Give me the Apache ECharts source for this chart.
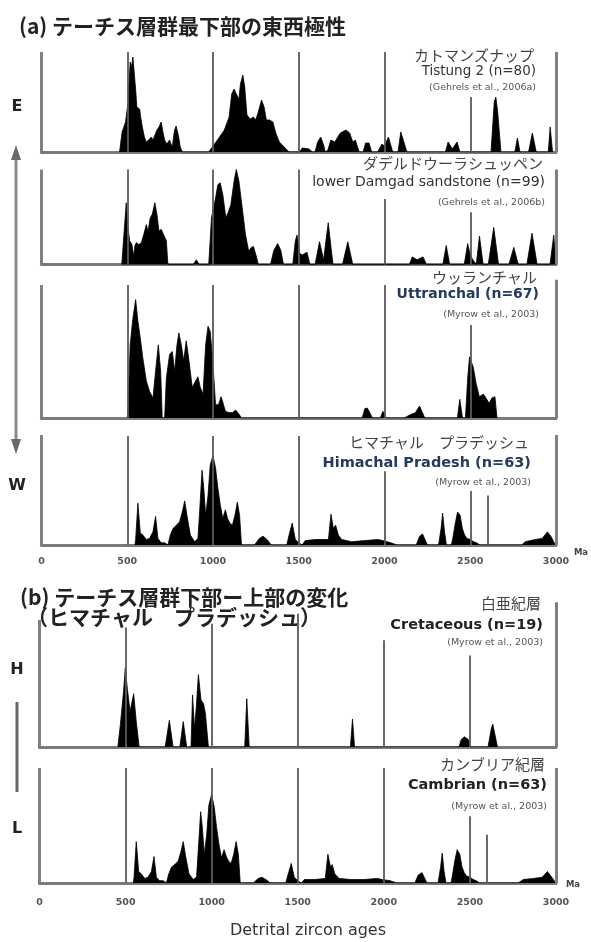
<!DOCTYPE html>
<html><head><meta charset="utf-8">
<script src="https://cdn.jsdelivr.net/npm/echarts@6/dist/echarts.min.js"></script>
<style>html,body{margin:0;padding:0;background:#fff}#c{width:591px;height:942px}</style>
</head><body><div id="c"></div>
<script>
// ---- data: [age (Ma), relative probability] ----
const tickAges = [0, 500, 1000, 1500, 2000, 2500, 3000];

const tistung = [[455,0],[470,0.2],[490,0.3],[505,0.5],[517,0.9],[525,0.85],[533,0.95],[543,0.93],[550,0.6],[556,0.45],[565,0.43],[572,0.43],[580,0.33],[588,0.25],[600,0.15],[611,0.1],[625,0.12],[640,0.15],[650,0.12],[660,0.12],[673,0.22],[685,0.25],[698,0.3],[708,0.2],[718,0.12],[730,0.08],[737,0.08],[747,0.12],[755,0.08],[763,0.05],[770,0.15],[776,0.22],[785,0.26],[792,0.26],[800,0.15],[809,0.05],[821,0],
[975,0],[1009,0.08],[1038,0.15],[1066,0.22],[1094,0.35],[1109,0.58],[1123,0.63],[1136,0.58],[1151,0.53],[1160,0.68],[1174,0.77],[1185,0.65],[1198,0.37],[1217,0.33],[1236,0.35],[1249,0.32],[1264,0.4],[1283,0.52],[1298,0.45],[1311,0.32],[1330,0.32],[1349,0.3],[1368,0.18],[1387,0.1],[1415,0.05],[1443,0],
[1505,0],[1520,0.04],[1560,0.03],[1580,0],[1595,0],[1610,0.1],[1628,0.15],[1643,0.08],[1655,0],[1670,0.02],[1687,0.12],[1710,0.1],[1742,0.19],[1775,0.22],[1797,0.19],[1815,0.1],[1830,0.12],[1852,0],[1875,0],[1890,0.09],[1910,0.09],[1925,0],[1960,0],[1985,0.08],[2000,0.06],[2023,0.15],[2048,0],[2079,0],[2095,0.2],[2106,0.2],[2131,0],[2355,0],[2371,0.1],[2395,0.03],[2423,0.1],[2440,0],[2621,0],[2640,0.5],[2649,0.55],[2660,0.4],[2679,0],[2760,0],[2775,0.14],[2790,0],[2840,0],[2862,0.19],[2885,0],[2955,0],[2966,0.25],[2980,0]];

const damgad = [[468,0],[480,0.3],[494,0.65],[503,0.4],[514,0.25],[527,0.21],[537,0.09],[545,0.2],[553,0.23],[568,0.21],[582,0.23],[597,0.32],[611,0.42],[621,0.35],[634,0.49],[646,0.53],[661,0.65],[673,0.53],[685,0.35],[698,0.37],[708,0.33],[728,0.25],[737,0],
[885,0],[903,0.05],[920,0],
[975,0],[985,0.3],[991,0.49],[1000,0.5],[1015,0.7],[1028,0.84],[1042,0.86],[1057,0.74],[1075,0.49],[1091,0.56],[1104,0.63],[1123,0.88],[1136,1.0],[1151,0.88],[1170,0.6],[1189,0.32],[1208,0.14],[1223,0.18],[1236,0.19],[1255,0.07],[1264,0],
[1335,0],[1355,0.15],[1377,0.22],[1395,0.15],[1411,0],
[1465,0],[1480,0.25],[1490,0.31],[1505,0.12],[1520,0.1],[1548,0.13],[1565,0],
[1595,0],[1621,0.24],[1645,0.05],[1655,0.2],[1672,0.44],[1690,0.15],[1700,0],
[1755,0],[1786,0.24],[1815,0],
[2145,0],[2162,0.08],[2190,0.05],[2225,0.08],[2245,0],
[2340,0],[2360,0.2],[2380,0],
[2465,0],[2485,0.22],[2500,0.1],[2515,0.05],[2535,0],[2554,0.3],[2575,0],[2605,0],[2637,0.39],[2665,0],[2725,0],[2754,0.18],[2780,0],[2830,0],[2860,0.33],[2890,0],[2965,0],[2987,0.31],[3000,0]];

const uttranchal = [[500,0],[504,0.05],[517,0.55],[533,0.75],[549,0.89],[562,0.73],[576,0.6],[591,0.45],[611,0.28],[630,0.2],[650,0.15],[665,0.35],[681,0.55],[695,0.35],[704,0],[718,0],[728,0.3],[747,0.48],[763,0.5],[776,0.35],[790,0.55],[801,0.64],[815,0.55],[829,0.43],[844,0.58],[860,0.43],[879,0.23],[899,0.28],[912,0.31],[926,0.23],[942,0.18],[957,0.55],[971,0.69],[984,0.65],[1000,0.4],[1015,0.1],[1032,0.1],[1047,0.16],[1057,0.12],[1072,0.05],[1094,0.04],[1113,0.04],[1132,0.06],[1151,0.03],[1166,0],
[1870,0],[1885,0.07],[1900,0.075],[1930,0],[1975,0],[1991,0.05],[2010,0],
[2115,0],[2150,0.025],[2180,0.04],[2204,0.09],[2235,0],
[2425,0],[2439,0.14],[2455,0],
[2472,0],[2485,0.3],[2496,0.46],[2502,0.47],[2518,0.38],[2534,0.26],[2553,0.16],[2576,0.18],[2592,0.15],[2610,0.11],[2626,0.15],[2644,0.16],[2656,0]];

const himachal = [[545,0],[549,0.05],[562,0.38],[576,0.11],[591,0.09],[611,0.05],[630,0.06],[650,0.12],[665,0.26],[679,0.06],[698,0.02],[718,0.02],[737,0],[751,0.09],[767,0.15],[786,0.18],[805,0.21],[821,0.3],[835,0.4],[848,0.27],[868,0.09],[893,0.03],[912,0.06],[922,0.3],[936,0.68],[946,0.52],[957,0.27],[971,0.45],[984,0.73],[1000,0.81],[1015,0.7],[1028,0.52],[1042,0.37],[1057,0.24],[1072,0.32],[1085,0.24],[1098,0.2],[1113,0.18],[1128,0.27],[1142,0.39],[1155,0.27],[1166,0],
[1242,0],[1270,0.06],[1292,0.08],[1315,0.05],[1340,0],
[1430,0],[1445,0.1],[1462,0.2],[1480,0.05],[1500,0.02],[1520,0],
[1530,0],[1538,0.04],[1600,0.05],[1673,0.05],[1688,0.28],[1702,0.15],[1715,0.18],[1731,0.09],[1750,0.05],[1808,0.03],[1885,0.04],[1962,0.05],[1990,0.04],[2037,0.02],[2074,0],
[2185,0],[2205,0.08],[2222,0.1],[2250,0],
[2315,0],[2330,0.15],[2339,0.29],[2350,0.12],[2361,0],
[2390,0],[2398,0.06],[2413,0.2],[2426,0.3],[2441,0.27],[2454,0.15],[2467,0.09],[2481,0.06],[2500,0.05],[2519,0.03],[2537,0.02],[2556,0],
[2800,0],[2820,0.03],[2880,0.05],[2920,0.06],[2950,0.12],[2970,0.08],[2990,0.02],[3000,0]];

const cretaceous = [[455,0],[470,0.18],[489,0.45],[498,0.62],[511,0.45],[526,0.28],[538,0.36],[547,0.42],[562,0.2],[579,0],
[730,0],[754,0.21],[776,0],
[815,0],[835,0.2],[855,0],
[880,0],[889,0.41],[900,0.15],[910,0.3],[923,0.57],[938,0.37],[953,0.34],[964,0.26],[981,0],
[1192,0],[1204,0.38],[1218,0],
[1806,0],[1818,0.22],[1830,0],
[2436,0],[2450,0.06],[2468,0.08],[2490,0.06],[2504,0],
[2605,0],[2625,0.15],[2633,0.18],[2660,0]];

const cambrian = [[545,0],[549,0.05],[562,0.36],[576,0.1],[591,0.08],[611,0.04],[630,0.05],[650,0.1],[665,0.23],[679,0.05],[698,0.02],[718,0.02],[737,0],[751,0.08],[767,0.14],[786,0.16],[805,0.19],[821,0.27],[835,0.36],[848,0.24],[868,0.08],[893,0.03],[912,0.05],[922,0.28],[936,0.62],[946,0.48],[957,0.25],[971,0.42],[984,0.68],[1000,0.77],[1015,0.66],[1028,0.49],[1042,0.34],[1057,0.22],[1072,0.29],[1085,0.23],[1098,0.19],[1113,0.17],[1128,0.25],[1142,0.36],[1155,0.25],[1166,0],
[1242,0],[1270,0.04],[1292,0.05],[1315,0.03],[1340,0],
[1430,0],[1445,0.08],[1462,0.17],[1480,0.05],[1500,0.02],[1520,0],
[1530,0],[1538,0.03],[1600,0.03],[1660,0.04],[1675,0.25],[1690,0.14],[1700,0.16],[1715,0.08],[1740,0.04],[1808,0.03],[1885,0.03],[1962,0.04],[1990,0.03],[2037,0.02],[2074,0],
[2180,0],[2200,0.07],[2222,0.09],[2250,0],
[2315,0],[2330,0.14],[2339,0.26],[2350,0.1],[2361,0],
[2390,0],[2398,0.06],[2413,0.2],[2426,0.29],[2441,0.25],[2454,0.14],[2467,0.09],[2481,0.06],[2500,0.05],[2519,0.03],[2537,0.02],[2556,0],
[2780,0],[2810,0.03],[2870,0.04],[2920,0.05],[2950,0.1],[2970,0.06],[2990,0.02],[3000,0]];

// reference lines: [age, height]
const tistungLines    = [[0,1],[500,1],[1000,1],[1500,1],[2000,1],[2500,0.55],[3000,1]];
const damgadLines     = [[0,1],[500,1],[1000,1],[1500,1],[2000,0.69],[2500,0.55],[3000,1]];
const uttranchalLines = [[0,1],[500,1],[1000,1],[1500,1],[2000,1],[2500,0.7],[3000,1.04]];
const himachalLines   = [[0,1],[500,0.99],[1000,0.99],[1500,0.99],[2000,0.67],[2500,0.49],[2600,0.45],[3000,1]];
const cretaceousLines = [[0,1],[500,0.94],[1000,0.97],[1500,1.05],[2000,0.84],[2500,0.72],[3000,1.14]];
const cambrianLines   = [[0,1],[500,1],[1000,1],[1500,1],[2000,1],[2500,0.58],[2600,0.42],[3000,1]];

const sampleJa = ['カトマンズナップ','ダデルドウーラシュッペン','ウッランチャル','ヒマチャル　プラデッシュ','白亜紀層','カンブリア紀層'];
const sampleEn = ['Tistung 2 (n=80)','lower Damgad sandstone (n=99)','Uttranchal (n=67)','Himachal Pradesh (n=63)','Cretaceous (n=19)','Cambrian (n=63)'];
const sampleRef = ['(Gehrels et al., 2006a)','(Gehrels et al., 2006b)','(Myrow et al., 2003)','(Myrow et al., 2003)','(Myrow et al., 2003)','(Myrow et al., 2003)'];

// ---- layout ----
const YMAX = 1.2;
const panels = [
  {data: tistung,    lines: tistungLines,    base: 152,   H: 100, left: 41.5, txt:[55,71,88],   enStyle:{w:'normal', c:'#333', s:13.5}},
  {data: damgad,     lines: damgadLines,     base: 264.5, H: 95,  left: 41.5, txt:[163,182,203], enStyle:{w:'normal', c:'#333', s:14}},
  {data: uttranchal, lines: uttranchalLines, base: 418,   H: 133, left: 41.5, txt:[277,294,315], enStyle:{w:'bold', c:'#263a5c', s:14}},
  {data: himachal,   lines: himachalLines,   base: 545,   H: 110, left: 41.5, txt:[442,463,483], enStyle:{w:'bold', c:'#263a5c', s:14.5}},
  {data: cretaceous, lines: cretaceousLines, base: 747,   H: 127, left: 39.5, txt:[603,625,643], enStyle:{w:'bold', c:'#222', s:14.5}},
  {data: cambrian,   lines: cambrianLines,   base: 883,   H: 115, left: 39.5, txt:[764,785,807], enStyle:{w:'bold', c:'#222', s:14.5}}
];
const txtRight = [536, 545, 539, 531, 543, 547];
const JP = '"Noto Sans CJK JP", sans-serif';
const EN = '"DejaVu Sans", "Liberation Sans", sans-serif';

const grid = [], xAxis = [], yAxis = [], series = [];
panels.forEach((p, i) => {
  grid.push({left: p.left, right: 35, top: p.base - YMAX * p.H, height: YMAX * p.H});
  const showLbl = (i === 3 || i === 5);
  xAxis.push({type: 'value', gridIndex: i, min: tickAges[0], max: tickAges[tickAges.length - 1], interval: tickAges[1] - tickAges[0],
    axisLine: {show: true, onZero: false, lineStyle: {color: '#7a7a7a', width: 3}},
    axisTick: {show: false}, splitLine: {show: false},
    axisLabel: {show: showLbl, margin: i === 5 ? 15 : 12, fontSize: 9.5, fontWeight: 'bold', color: '#555', fontFamily: EN,
      showMinLabel: true, showMaxLabel: true, formatter: v => String(v)}});
  yAxis.push({type: 'value', gridIndex: i, min: 0, max: YMAX, show: false});
  series.push({type: 'line', xAxisIndex: i, yAxisIndex: i, data: [], z: 1, silent: true,
    markLine: {silent: true, symbol: ['none', 'none'], animation: false, label: {show: false},
      data: p.lines.map(([x, h]) => [
        {coord: [x, 0], lineStyle: {color: (x === 0 || x === 3000) ? '#808080' : '#5a5a5a', width: (x === 0 || x === 3000) ? 3 : 1.8, type: 'solid'}},
        {coord: [x, h]}])}});
  series.push({type: 'line', xAxisIndex: i, yAxisIndex: i, data: p.data, z: 3, symbol: 'none', showSymbol: false,
    animation: false, lineStyle: {color: '#000', width: 0.8}, areaStyle: {color: '#000', opacity: 1}});
});

const graphic = [];
function txt(x, y, text, font, fill, align) {
  graphic.push({type: 'text', x: x, y: y, z: 10, style: {text: text, font: font, fill: fill, textAlign: align || 'left', textVerticalAlign: 'middle'}});
}
panels.forEach((p, i) => {
  const r = txtRight[i];
  txt(r - 2, p.txt[0], sampleJa[i], '15px ' + JP, '#444', 'right');
  txt(r, p.txt[1], sampleEn[i], p.enStyle.w + ' ' + p.enStyle.s + 'px ' + EN, p.enStyle.c, 'right');
  txt(r, p.txt[2], sampleRef[i], '9.5px ' + EN, '#555', 'right');
});
txt(19, 26, '(a) テーチス層群最下部の東西極性', 'bold 21px ' + JP, '#222');
txt(20, 597, '(b) テーチス層群下部ー上部の変化', 'bold 21px ' + JP, '#222');
txt(27, 617, '（ヒマチャル　プラデッシュ）', 'bold 21px ' + JP, '#222');
txt(17, 107, 'E', 'bold 16px ' + EN, '#222', 'center');
txt(17, 486, 'W', 'bold 16px ' + EN, '#222', 'center');
txt(17, 670, 'H', 'bold 16px ' + EN, '#222', 'center');
txt(17, 829, 'L', 'bold 16px ' + EN, '#222', 'center');
txt(581, 553, 'Ma', 'bold 8.5px ' + EN, '#444', 'center');
txt(573, 885, 'Ma', 'bold 8.5px ' + EN, '#444', 'center');
txt(308, 931, 'Detrital zircon ages', '16px ' + EN, '#333', 'center');
// E-W arrow
graphic.push({type: 'line', z: 5, shape: {x1: 16, y1: 156, x2: 16, y2: 444}, style: {stroke: '#8a8a8a', lineWidth: 3}});
graphic.push({type: 'polygon', z: 5, shape: {points: [[16, 145], [11, 160], [21, 160]]}, style: {fill: '#6a6a6a'}});
graphic.push({type: 'polygon', z: 5, shape: {points: [[16, 454], [11, 439], [21, 439]]}, style: {fill: '#6a6a6a'}});
// H-L bar
graphic.push({type: 'line', z: 5, shape: {x1: 17, y1: 702, x2: 17, y2: 792}, style: {stroke: '#666', lineWidth: 3}});

const chart = echarts.init(document.getElementById('c'), null, {renderer: 'canvas'});
chart.setOption({animation: false, backgroundColor: '#fff', grid, xAxis, yAxis, series, graphic});
</script></body></html>
